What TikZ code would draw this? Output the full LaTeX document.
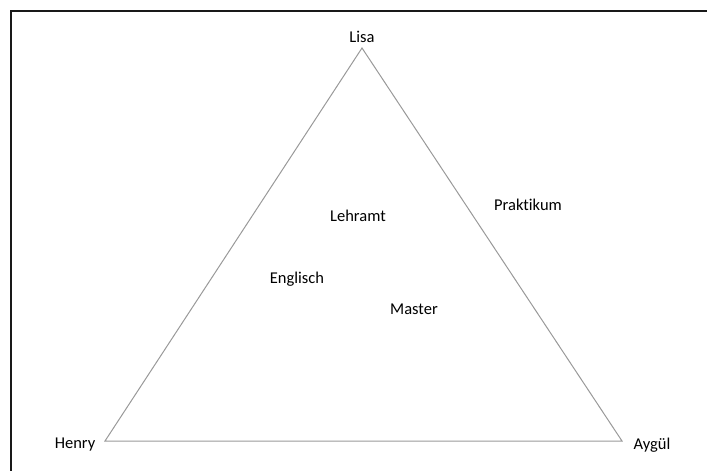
\documentclass[tikz,border=0pt]{standalone}
\usepackage{fontspec}
\setmainfont[Ligatures=NoCommon]{Carlito}
\usepackage{tikz}
\usetikzlibrary{positioning}

\begin{document}
\begin{tikzpicture}[x=1pt,y=-1pt,font=\fontsize{16.5}{19}\selectfont,
    side/.style={draw=black!40,line width=1pt},
    frame/.style={draw=black!90,line width=1.3pt}]
    \useasboundingbox (0,0) rectangle (707,471);

      \coordinate (top)   at (362,48);
      \coordinate (left)  at (105,441);
      \coordinate (right) at (622,441);
      \coordinate (fa) at (11,471);
      \coordinate (fb) at (11,11);
      \coordinate (fc) at (707,11);

      \node (lisa)  at (362,37)  {Lisa};
      \node (henry) at (75,445)  {Henry};
      \node (aygul) at (652,445) {Aygül};

      \node (lehramt)   at (358,216) {Lehramt};
      \node (englisch)  at (297,279) {Englisch};
      \node (master)    at (414,309) {Master};
      \node (praktikum) at (528,205) {Praktikum};

      \draw[frame] (fa) -- (fb) -- (fc);
      \draw[side] (top) -- (left) -- (right) -- cycle;
    \end{tikzpicture}
\end{document}
